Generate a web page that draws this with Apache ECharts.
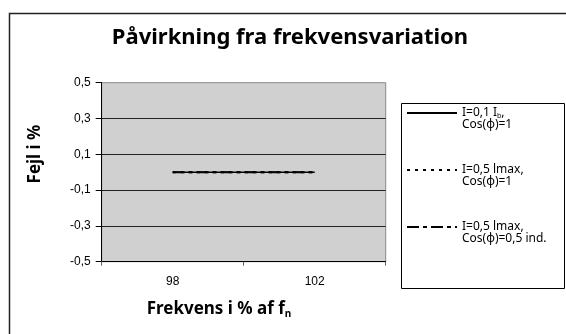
<!DOCTYPE html>
<html>
<head>
<meta charset="utf-8">
<script src="https://cdn.jsdelivr.net/npm/echarts@6/dist/echarts.min.js"></script>
<style>
  html, body { margin: 0; padding: 0; background: #fff; }
  #chart { width: 566px; height: 334px; }
</style>
</head>
<body>
<div id="chart"></div>
<script>
// categories (frequency in % of fn)
const categories = ["98", "102"];
// error in %
const seriesNames = ["s1", "s2", "s3"];
const errSolid = [0, 0];
const errDotted = [0, 0];
const errDashDot = [0, 0];
const legendLines = {
  s1: ["{t|I=0,1 I}{s|b}{t|,}", "{t|Cos(φ)=1}"],
  s2: ["{t|I=0,5 lmax,}", "{t|Cos(φ)=1}"],
  s3: ["{t|I=0,5 lmax,}", "{t|Cos(φ)=0,5 ind.}"]
};

const chart = echarts.init(document.getElementById("chart"));

chart.setOption({
  animation: false,
  backgroundColor: "#fff",
  title: {
    text: "Påvirkning fra frekvensvariation",
    left: 285,
    textAlign: "center",
    top: 22,
    textStyle: {
      fontFamily: "Noto Sans",
      fontWeight: "bold",
      fontSize: 22,
      color: "#000"
    }
  },
  graphic: [
    {
      // outer frame
      type: "rect",
      shape: { x: 9.5, y: 13.5, width: 600, height: 400 },
      style: { fill: null, stroke: "#222", lineWidth: 1.5 },
      z: 100
    },
    {
      // legend box
      type: "rect",
      shape: { x: 401.5, y: 103.5, width: 163, height: 185 },
      style: { fill: null, stroke: "#000", lineWidth: 1 },
      z: 100
    },
    {
      // y axis title
      type: "text",
      x: 35,
      y: 154,
      rotation: Math.PI / 2,
      style: {
        text: "Fejl i %",
        fontFamily: "Noto Sans",
        fontWeight: "bold",
        fontSize: 17,
        fill: "#000",
        align: "center",
        verticalAlign: "middle"
      }
    },
    {
      // x axis title
      type: "text",
      x: 219,
      y: 309,
      style: {
        text: "{a|Frekvens i % af f}{n|n}",
        align: "center",
        verticalAlign: "middle",
        rich: {
          a: { fontFamily: "Noto Sans", fontWeight: "bold", fontSize: 17, fill: "#000" },
          n: { fontFamily: "Noto Sans", fontWeight: "bold", fontSize: 10, fill: "#000", padding: [10, 0, 0, 0] }
        }
      }
    }
  ],
  legend: {
    orient: "vertical",
    left: 406,
    top: 107,
    padding: 0,
    itemGap: 33,
    itemWidth: 50,
    itemHeight: 12,
    data: seriesNames,
    itemStyle: { opacity: 0 },
    formatter: function (name) {
      return legendLines[name].join("\n");
    },
    textStyle: {
      padding: [12, 0, 0, 0],
      rich: {
        t: { fontFamily: "Noto Sans", fontSize: 12, lineHeight: 12, color: "#000" },
        s: { fontFamily: "Noto Sans", fontSize: 7, lineHeight: 12, color: "#000", padding: [5, 0, 0, 0] }
      }
    }
  },
  grid: {
    left: 101.7,
    right: 180.3,
    top: 82.7,
    bottom: 72.3,
    show: true,
    backgroundColor: "#d0d0d0",
    borderColor: "#888",
    borderWidth: 1
  },
  xAxis: {
    type: "category",
    data: categories,
    boundaryGap: true,
    axisLine: { onZero: false, lineStyle: { color: "#000", width: 1 } },
    axisTick: { show: true, length: 4, lineStyle: { color: "#666" } },
    axisLabel: {
      fontFamily: "Liberation Sans",
      fontSize: 12,
      color: "#000",
      margin: 14
    },
    splitLine: { show: false }
  },
  yAxis: {
    type: "value",
    min: -0.5,
    max: 0.5,
    interval: 0.2,
    axisLine: { show: true, lineStyle: { color: "#000", width: 1 } },
    axisTick: { show: true, length: 6, lineStyle: { color: "#000" } },
    axisLabel: {
      fontFamily: "Liberation Sans",
      fontSize: 12,
      color: "#000",
      margin: 11,
      formatter: function (v) {
        return v.toFixed(1).replace(".", ",");
      }
    },
    splitLine: {
      show: true,
      showMinLine: false,
      showMaxLine: false,
      lineStyle: { color: "#222", width: 1 }
    }
  },
  series: [
    {
      name: "s1",
      type: "line",
      data: errSolid,
      symbol: "none",
      itemStyle: { color: "#000" },
      lineStyle: { color: "#000", width: 1.5, type: "solid" }
    },
    {
      name: "s2",
      type: "line",
      data: errDotted,
      symbol: "none",
      itemStyle: { color: "#000" },
      lineStyle: { color: "#000", width: 2, type: [3, 5] }
    },
    {
      name: "s3",
      type: "line",
      data: errDashDot,
      symbol: "none",
      itemStyle: { color: "#000" },
      lineStyle: { color: "#000", width: 2, type: [12, 4, 4, 4] }
    }
  ]
});
</script>
</body>
</html>
